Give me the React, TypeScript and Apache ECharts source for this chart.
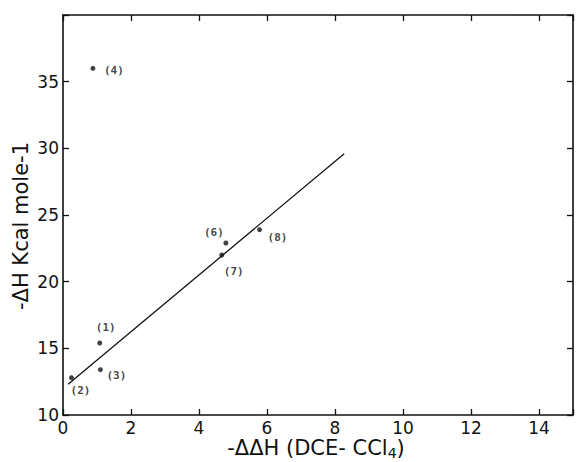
import React, { useEffect, useRef } from "react";
import * as echarts from "echarts";

const pointLabels = ["(1)", "(2)", "(3)", "(4)", "(6)", "(7)", "(8)"];
const pointX = [1.08, 0.25, 1.1, 0.88, 4.79, 4.67, 5.78];
const pointY = [15.4, 12.8, 13.4, 36.0, 22.9, 22.0, 23.9];
const labelOffsets: number[][] = [
  [6, -16],
  [9, 13],
  [16, 6],
  [21, 2],
  [-12, -11],
  [12, 16],
  [18, 8],
];
const fitX = [0.15, 8.27];
const fitY = [12.3, 29.6];

const FONT = "DejaVu Sans";

export default function App() {
  const ref = useRef<HTMLDivElement>(null);
  useEffect(() => {
    document.body.style.margin = "0";
    const chart = echarts.init(ref.current!, null, { renderer: "svg" });
    const axisLine = { show: true, onZero: false, lineStyle: { color: "#111", width: 1.6 } };
    const tickStyle = { show: true, inside: true, length: 6, lineStyle: { color: "#111", width: 1.3 } };
    chart.setOption({
      animation: false,
      backgroundColor: "#fff",
      grid: { left: 63, right: 2, top: 15, bottom: 47, containLabel: false },
      xAxis: [
        {
          type: "value",
          min: 0,
          max: 15,
          interval: 2,
          axisLine,
          axisTick: tickStyle,
          splitLine: { show: false },
          axisLabel: {
            color: "#111",
            fontFamily: FONT,
            fontSize: 17,
            margin: 4,
            formatter: (v: number) => (v > 14 ? "" : String(v)),
          },
        },
        {
          type: "value",
          position: "top",
          min: 0,
          max: 15,
          interval: 2,
          axisLine,
          axisTick: tickStyle,
          splitLine: { show: false },
          axisLabel: { show: false },
        },
      ],
      yAxis: [
        {
          type: "value",
          min: 10,
          max: 40,
          interval: 5,
          axisLine,
          axisTick: tickStyle,
          splitLine: { show: false },
          axisLabel: {
            color: "#111",
            fontFamily: FONT,
            fontSize: 17,
            margin: 4,
            formatter: (v: number) => (v >= 40 ? "" : String(v)),
          },
        },
        {
          type: "value",
          position: "right",
          min: 10,
          max: 40,
          interval: 5,
          axisLine,
          axisTick: tickStyle,
          splitLine: { show: false },
          axisLabel: { show: false },
        },
      ],
      series: [
        {
          type: "line",
          data: fitX.map((x, i) => [x, fitY[i]]),
          showSymbol: false,
          symbol: "none",
          lineStyle: { color: "#111", width: 1.3 },
          silent: true,
        },
        {
          type: "scatter",
          symbolSize: 5,
          itemStyle: { color: "#111" },
          data: pointX.map((x, i) => ({
            value: [x, pointY[i]],
            label: {
              show: true,
              position: "inside",
              offset: labelOffsets[i],
              formatter: pointLabels[i],
              color: "#111",
              fontFamily: "DejaVu Sans Mono",
              fontSize: 11,
              fontWeight: "bold",
            },
          })),
        },
      ],
      graphic: [
        {
          type: "text",
          x: 316,
          y: 448,
          style: {
            text: "-ΔΔH (DCE- CC{s|l}{sub|4})",
            fontFamily: FONT,
            fontSize: 21,
            fill: "#111",
            align: "center",
            verticalAlign: "middle",
            rich: {
              s: { fontFamily: FONT, fontSize: 21, fill: "#111" },
              sub: { fontFamily: FONT, fontSize: 14, fill: "#111", verticalAlign: "bottom", padding: [9, 0, 0, 0] },
            },
          },
        },
        {
          type: "text",
          x: 21,
          y: 226,
          rotation: Math.PI / 2,
          style: {
            text: "-ΔH Kcal mole-1",
            fontFamily: FONT,
            fontSize: 21,
            fill: "#111",
            align: "center",
            verticalAlign: "middle",
          },
        },
      ],
    });
    return () => chart.dispose();
  }, []);
  return <div ref={ref} style={{ width: 576, height: 462 }} />;
}
